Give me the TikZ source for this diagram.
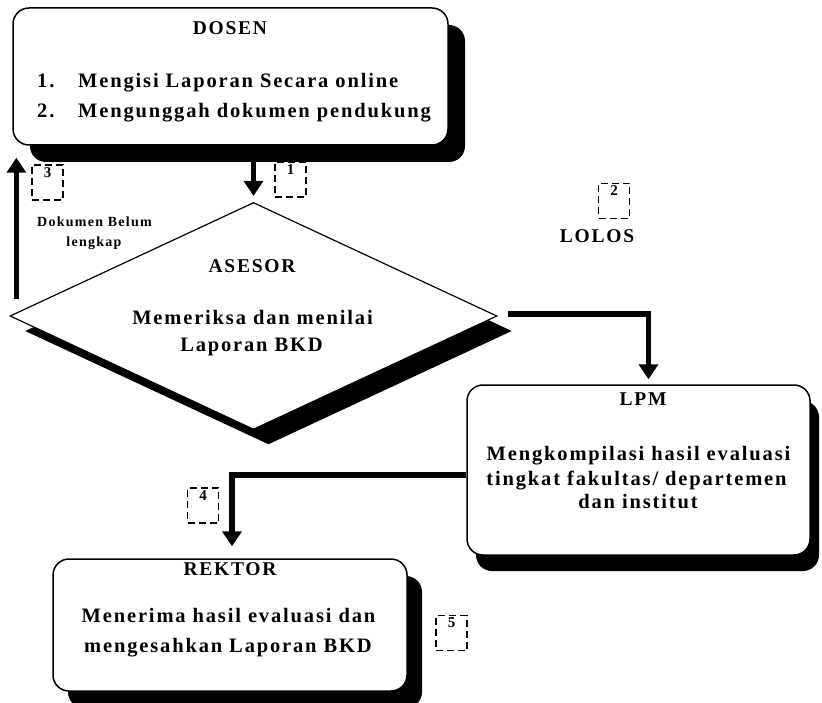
\documentclass[tikz,border=0pt]{standalone}
\usepackage{fontspec}
\setmainfont{Liberation Serif}[LetterSpace=9]
\usetikzlibrary{shapes.geometric,shadows,arrows.meta,calc}
\begin{document}
\begin{tikzpicture}[x=1pt,y=-1pt,
  box/.style={draw, line width=1.5pt, rounded corners=16pt, fill=white, inner sep=0pt},
  shad/.style 2 args={drop shadow={shadow xshift=#1pt, shadow yshift=-#2pt, opacity=1, fill=black}},
  arr/.style={line width=5.5pt, -{Triangle[width=19pt,length=15pt]}},
  dbox/.style={draw, dash pattern=on 7pt off 4pt, line width=1.8pt, minimum width=31pt, minimum height=35pt, inner sep=0pt},
  ttl/.style={font=\bfseries\fontsize{19.5}{23}\selectfont, inner sep=0pt, anchor=base},
  body/.style={font=\bfseries\fontsize{20.5}{24}\selectfont, inner sep=0pt, anchor=base},
  small/.style={font=\bfseries\fontsize{14}{16}\selectfont, inner sep=0pt, anchor=base},
  numlab/.style={label={[anchor=north, inner sep=0pt, yshift=-3pt, font=\bfseries\fontsize{15}{17}\selectfont]north:#1}}
]
\useasboundingbox (0,0) rectangle (822,703);

% shapes
\node[box, shad={17}{17}, minimum width=435pt, minimum height=137pt] (dosen) at (230.5,76.5) {};
\node[draw, diamond, line width=1.2pt, fill=white, shad={15}{15}, minimum width=487pt, minimum height=227pt, inner sep=0pt] (asesor) at (253.5,316) {};
\node[box, shad={9}{16}, minimum width=343pt, minimum height=170pt] (lpm) at (638.5,470) {};
\node[box, shad={15}{17}, minimum width=354pt, minimum height=132pt] (rektor) at (230,625) {};

% DOSEN texts
\node[ttl] (tdosen) at (230,35) {DOSEN};
\node[body, anchor=base west] (n1) at (37,88) {1.};
\node[body, anchor=base west] (t1) at (78,88) {Mengisi Laporan Secara online};
\node[body, anchor=base west] (n2) at (37,118) {2.};
\node[body, anchor=base west] (t2) at (78,118) {Mengunggah dokumen pendukung};

% ASESOR texts
\node[ttl] (tasesor) at (252,273) {ASESOR};
\node[body] (a1) at (252.5,325) {Memeriksa dan menilai};
\node[body] (a2) at (251.5,352) {Laporan BKD};

% LPM texts
\node[ttl] (tlpm) at (643,405) {LPM};
\node[body] (l1) at (638.5,460) {Mengkompilasi hasil evaluasi};
\node[body] (l2) at (636.5,485) {tingkat fakultas/ departemen};
\node[body] (l3) at (638,508) {dan institut};

% REKTOR texts
\node[ttl] (trektor) at (230,575) {REKTOR};
\node[body] (r1) at (228.5,622) {Menerima hasil evaluasi dan};
\node[body] (r2) at (228,652) {mengesahkan Laporan BKD};

% other labels
\node[ttl] (lolos) at (597,243) {LOLOS};
\node[small] (dok1) at (94.5,227) {Dokumen Belum};
\node[small] (dok2) at (94,247) {lengkap};

% dashed number boxes
\node[dbox, numlab=1] (d1) at (290.5,179.5) {};
\node[dbox, numlab=2] (d2) at (614,201) {};
\node[dbox, numlab=3] (d3) at (47.5,182.5) {};
\node[dbox, numlab=4] (d4) at (203,505.5) {};
\node[dbox, numlab=5] (d5) at (451.5,633) {};

% connectors
\draw[arr] ($(dosen.south -| asesor.north)+(0,16)$) -- ($(asesor.north)+(0,-6)$);
\draw[arr] ($(asesor.west)+(7,-17)$) -- ($(asesor.west |- dosen.south)+(7,12)$);
\draw[arr] ($(asesor.east)+(10,-2)$) -| ($(lpm.north)+(10,-5)$);
\draw[arr] ($(lpm.west)+(0,5)$) -| ($(rektor.north)+(2,-12)$);
\end{tikzpicture}
\end{document}
